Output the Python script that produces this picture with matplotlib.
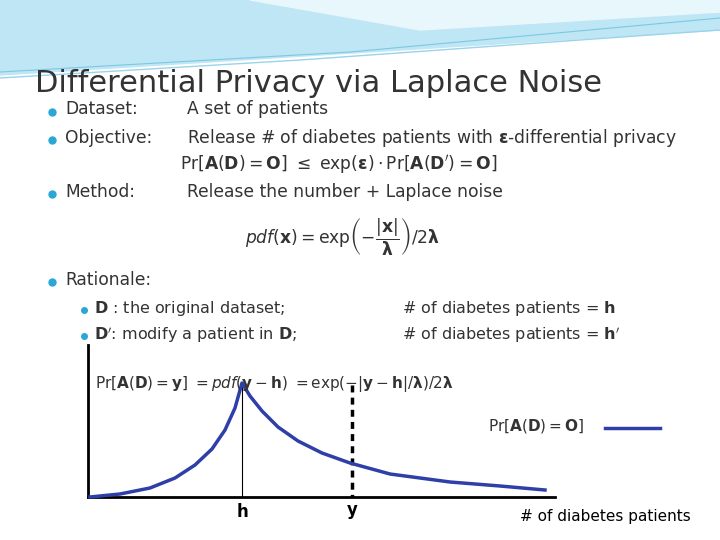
import matplotlib
matplotlib.use("Agg")
import matplotlib.pyplot as plt

# curve data (slide pixel coordinates)
curve_x = [90, 120, 150, 175, 195, 212, 225, 235, 242, 250, 262, 278, 298, 322, 350, 390, 450, 500, 545]
curve_y = [497, 494, 488, 478, 465, 449, 430, 408, 383, 396, 411, 427, 441, 453, 463, 474, 482, 486, 490]
peak_x = 242
y_x = 352

fig = plt.figure(figsize=(7.2, 5.4), dpi=100)
ax = fig.add_axes([0, 0, 1, 1])
ax.set_xlim(0, 720); ax.set_ylim(540, 0); ax.axis("off")

# header swoosh
ax.fill([0, 720, 720, 0], [0, 0, 30, 75], color="#bfe6f5")
ax.fill([250, 720, 720, 420], [0, 0, 12, 30], color="#e8f7fc")
ax.plot([0, 300, 720], [78, 60, 30], color="#9ad4ea", lw=1)
ax.plot([0, 350, 720], [72, 52, 18], color="#7cc8e4", lw=0.8)

ax.text(35, 84, "Differential Privacy via Laplace Noise", fontsize=22, color="#333333", va="center")

fs = 12.3
tc = "#333333"
def bullet(y, x=52):
    ax.plot(x, y, "o", color="#2aa7d6", ms=5)
bullet(112); ax.text(65, 109, "Dataset:", fontsize=fs, va="center", color=tc)
ax.text(187, 109, "A set of patients", fontsize=fs, va="center", color=tc)
bullet(140); ax.text(65, 138, "Objective:", fontsize=fs, va="center", color=tc)
ax.text(187, 138, r"Release # of diabetes patients with $\mathbf{\epsilon}$-differential privacy", fontsize=fs, va="center", color=tc)
ax.text(180, 164, r"$\mathrm{Pr}[\mathbf{A}(\mathbf{D})=\mathbf{O}]\ \leq\ \mathrm{exp}(\mathbf{\epsilon})\cdot\mathrm{Pr}[\mathbf{A}(\mathbf{D'})=\mathbf{O}]$", fontsize=fs, va="center", color=tc)
bullet(194); ax.text(65, 192, "Method:", fontsize=fs, va="center", color=tc)
ax.text(187, 192, "Release the number + Laplace noise", fontsize=fs, va="center", color=tc)
ax.text(245, 237, r"$pdf(\mathbf{x})=\mathrm{exp}\left(-\dfrac{|\mathbf{x}|}{\mathbf{\lambda}}\right)/2\mathbf{\lambda}$", fontsize=fs, va="center", color=tc)
bullet(282); ax.text(65, 280, "Rationale:", fontsize=fs, va="center", color=tc)
ax.plot(84, 310, "o", color="#2aa7d6", ms=4)
ax.text(94, 309, r"$\mathbf{D}$ : the original dataset;", fontsize=11.5, va="center", color=tc)
ax.text(402, 309, r"# of diabetes patients = $\mathbf{h}$", fontsize=11.5, va="center", color=tc)
ax.plot(84, 336, "o", color="#2aa7d6", ms=4)
ax.text(94, 335, r"$\mathbf{D'}$: modify a patient in $\mathbf{D}$;", fontsize=11.5, va="center", color=tc)
ax.text(402, 335, r"# of diabetes patients = $\mathbf{h'}$", fontsize=11.5, va="center", color=tc)

ax.text(95, 384, r"$\mathrm{Pr}[\mathbf{A}(\mathbf{D})=\mathbf{y}]\ =pdf(\mathbf{y}-\mathbf{h})\ =\mathrm{exp}(-|\mathbf{y}-\mathbf{h}|/\mathbf{\lambda})/2\mathbf{\lambda}$", fontsize=11, va="center", color=tc)

# axes
ax.plot([88, 88], [345, 497], color="black", lw=2)
ax.plot([88, 555], [497, 497], color="black", lw=2)
ax.plot([peak_x, peak_x], [383, 497], color="black", lw=0.8)
ax.plot([y_x, y_x], [385, 497], color="black", lw=2.5, ls=(0, (2, 1.5)))
ax.plot(curve_x, curve_y, color="#2e3fa8", lw=2.5)

ax.text(488, 426, r"$\mathrm{Pr}[\mathbf{A}(\mathbf{D})=\mathbf{O}]$", fontsize=11, va="center", color=tc)
ax.plot([605, 660], [428, 428], color="#2e3fa8", lw=2.5)

ax.text(peak_x, 512, r"$\mathbf{h}$", fontsize=12, ha="center", va="center")
ax.text(y_x, 512, r"$\mathbf{y}$", fontsize=12, ha="center", va="center")
ax.text(520, 516, "# of diabetes patients", fontsize=11, va="center")

fig.savefig("out.png", dpi=100)
